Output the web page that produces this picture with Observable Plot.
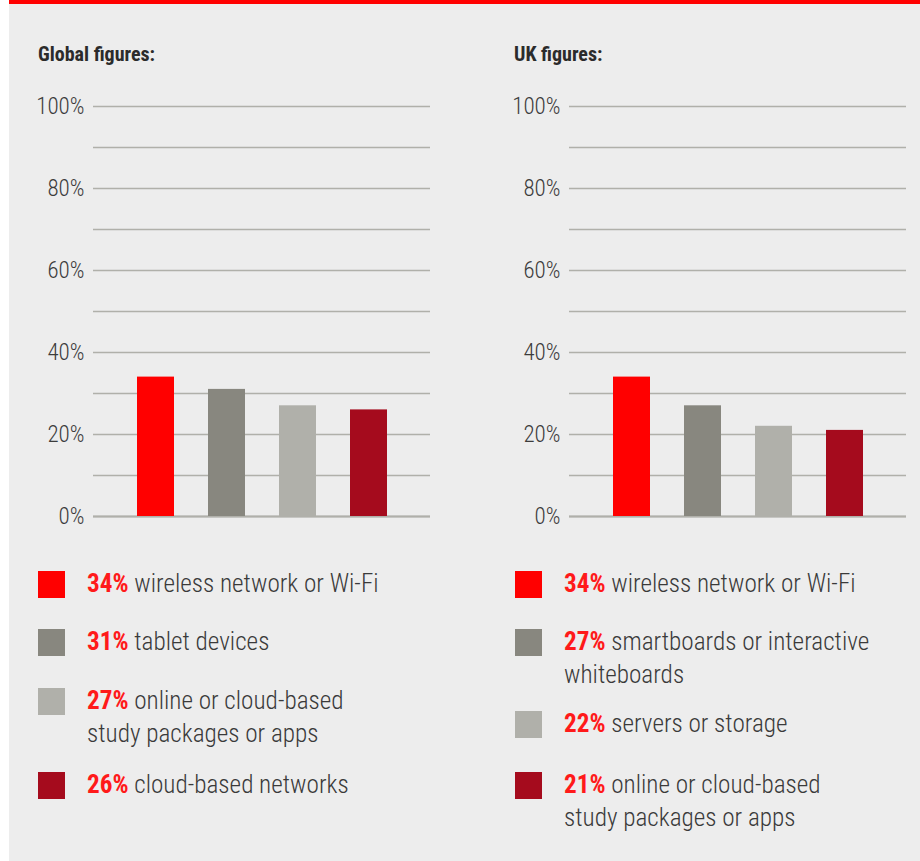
<!DOCTYPE html>
<html>
<head>
<meta charset="utf-8">
<script src="https://cdn.jsdelivr.net/npm/d3@7"></script>
<script src="https://cdn.jsdelivr.net/npm/@observablehq/plot@0.6"></script>
<style>
  html, body { margin: 0; padding: 0; background: #ffffff; }
  #page { position: relative; width: 920px; height: 861px; overflow: hidden; }
  #panel { position: absolute; left: 9px; top: 0; width: 911px; height: 861px;
           background: #ededed; border-top: 4px solid #ff0000; box-sizing: border-box; }
  .title { position: absolute; font-family: "Roboto Condensed", Roboto, sans-serif;
           font-weight: bold; font-size: 20px; color: #2b2b2b; white-space: nowrap; }
  .legend { position: absolute; font-family: "Roboto Condensed", Roboto, sans-serif; font-size: 25.2px; font-weight: 300; color: #3a3a3a; }
  .item { position: absolute; left: 0; }
  .sw { position: absolute; left: 0; width: 27px; height: 27px; }
  .txt { position: absolute; left: 49px; line-height: 33px; white-space: nowrap; }
  .pct { color: #ff1a1a; font-weight: bold; }
</style>
</head>
<body>
<div id="page">
  <div id="panel"></div>
</div>
<script>
// ---- data ----
const globalTitle = "Global figures:";
const ukTitle = "UK figures:";
const globalLabelLines = [["wireless network or Wi-Fi"], ["tablet devices"], ["online or cloud-based", "study packages or apps"], ["cloud-based networks"]];
const globalValues = [34, 31, 27, 26];
const ukLabelLines = [["wireless network or Wi-Fi"], ["smartboards or interactive", "whiteboards"], ["servers or storage"], ["online or cloud-based", "study packages or apps"]];
const ukValues = [34, 27, 22, 21];
const yTickValues = [0, 20, 40, 60, 80, 100];
const gridValues = [0, 10, 20, 30, 40, 50, 60, 70, 80, 90, 100];
const palette = ["#ff0000", "#88877f", "#b0b0aa", "#a50b1d"];

const globalCategories = globalLabelLines.map(l => l.join(" "));
const ukCategories = ukLabelLines.map(l => l.join(" "));

const page = document.getElementById("page");

function makeChart(categories, values) {
  const data = categories.map((c, i) => ({category: c, value: values[i]}));
  return Plot.plot({
    width: 435, height: 430,
    marginLeft: 84, marginRight: 14, marginTop: 16, marginBottom: 4,
    style: {background: "transparent", fontFamily: "'Roboto Condensed', Roboto, sans-serif", fontWeight: 300, fontSize: "23px", color: "#3c3c3c", overflow: "visible"},
    x: {domain: categories, paddingInner: 0.48, paddingOuter: 0.6, axis: null},
    y: {domain: [0, 100], ticks: yTickValues, tickFormat: d => d + "%", tickSize: 0, tickPadding: 9, label: null},
    color: {domain: categories, range: palette},
    marks: [
      Plot.ruleY(gridValues, {stroke: "#b0b0aa", strokeWidth: 1.3}),
      Plot.ruleY([0], {stroke: "#b0b0aa", strokeWidth: 2}),
      Plot.barY(data, {x: "category", y: "value", fill: "category"})
    ]
  });
}

function place(el, left, top) {
  el.style.position = "absolute";
  el.style.left = left + "px";
  el.style.top = top + "px";
  page.appendChild(el);
}

function makeLegend(lines, values, left, tops) {
  const lg = document.createElement("div");
  lg.className = "legend";
  lines.forEach((ls, i) => {
    const item = document.createElement("div");
    item.className = "item";
    item.style.top = tops[i] + "px";
    const sw = document.createElement("div");
    sw.className = "sw";
    sw.style.background = palette[i];
    const tx = document.createElement("div");
    tx.className = "txt";
    tx.style.top = "-4px";
    ls.forEach((line, j) => {
      const row = document.createElement("div");
      if (j === 0) {
        const p = document.createElement("span");
        p.className = "pct";
        p.textContent = values[i] + "%";
        row.appendChild(p);
        row.appendChild(document.createTextNode(" " + line));
      } else {
        row.textContent = line;
      }
      tx.appendChild(row);
    });
    item.appendChild(sw);
    item.appendChild(tx);
    lg.appendChild(item);
  });
  place(lg, left, 0);
}

function makeTitle(text, left, top) {
  const t = document.createElement("div");
  t.className = "title";
  t.textContent = text;
  place(t, left, top);
}

makeTitle(globalTitle, 38, 42);
makeTitle(ukTitle, 514, 42);

place(makeChart(globalCategories, globalValues), 9, 90);
place(makeChart(ukCategories, ukValues), 485, 90);

makeLegend(globalLabelLines, globalValues, 38, [571, 629, 688, 772]);
makeLegend(ukLabelLines, ukValues, 515, [571, 629, 711, 772]);
</script>
</body>
</html>
